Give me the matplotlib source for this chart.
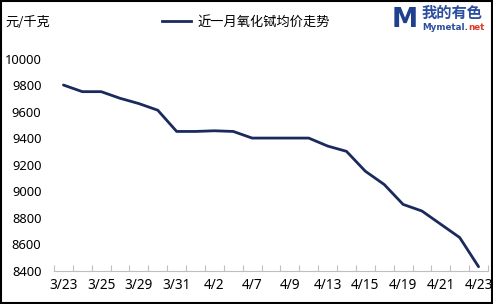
import matplotlib
matplotlib.use("Agg")
import matplotlib.pyplot as plt
from matplotlib.patches import Rectangle

dates = ["3/23", "3/24", "3/25", "3/26", "3/29", "3/30", "3/31", "4/1", "4/2", "4/6",
         "4/7", "4/8", "4/9", "4/12", "4/13", "4/14", "4/15", "4/16", "4/19", "4/20",
         "4/21", "4/22", "4/23"]
prices = [9800, 9750, 9750, 9700, 9660, 9610, 9450, 9450, 9455, 9450,
          9400, 9400, 9400, 9400, 9340, 9300, 9150, 9050, 8900, 8850,
          8750, 8650, 8430]
yticks = [8400, 8600, 8800, 9000, 9200, 9400, 9600, 9800, 10000]

navy = "#1b2a5c"
cjk = ["Noto Sans CJK SC", "DejaVu Sans"]

fig = plt.figure(figsize=(4.93, 3.04), dpi=100)
ax = fig.add_axes([54 / 493, 33.3 / 304, 434 / 493, 212.2 / 304])

x = list(range(len(dates)))
ax.plot(x, prices, color=navy, lw=2, solid_capstyle="round", solid_joinstyle="round")

ax.set_xlim(-0.5, len(dates) - 0.5)
ax.set_ylim(8400, 10000)
ax.set_yticks(yticks)
ax.set_yticklabels([str(v) for v in yticks], fontname="Noto Sans", fontsize=9.3)
ax.tick_params(axis="y", length=0, pad=9)

# category boundaries carry the tick marks, every other label shown
ax.set_xticks([i - 0.5 for i in range(len(dates) + 1)])
ax.set_xticklabels([])
ax.set_xticks(x[::2], minor=True)
ax.set_xticklabels(dates[::2], minor=True, fontname="Noto Sans", fontsize=9.8)
ax.tick_params(axis="x", which="major", direction="in", length=4, color="#bfbfbf", width=0.8)
ax.tick_params(axis="x", which="minor", length=0, pad=5)

for s in ["left", "right", "top"]:
    ax.spines[s].set_visible(False)
ax.spines["bottom"].set_color("#bfbfbf")
ax.spines["bottom"].set_linewidth(0.8)

fig.text(5 / 493, 1 - 22 / 304, "元/千克", family=cjk, fontsize=9.5, va="center")

# legend
ax.plot([], [], color=navy, lw=2, label="近一月氧化铽均价走势")
ax.legend(loc="center", bbox_to_anchor=(246 / 493, 1 - 22 / 304), bbox_transform=fig.transFigure,
          frameon=False, prop={"family": cjk, "size": 9.5}, handlelength=2.2, handletextpad=0.5)

# logo
fig.text(405 / 493, 1 - 20 / 304, "M", fontsize=19, fontweight="bold", color="#1f3f8f",
         ha="center", va="center", family="DejaVu Sans")
fig.text(422 / 493, 1 - 13 / 304, "我的有色", family=cjk, fontsize=11, color="#2b4ea0",
         va="center", fontweight="bold")
t = fig.text(422 / 493, 1 - 28 / 304, "Mymetal.", fontsize=6.3, color="#2b4ea0", va="center",
             fontweight="bold", family="DejaVu Sans")
ax.annotate("net", xy=(1, 0.5), xycoords=t, xytext=(0.5, 0), textcoords="offset points",
            fontsize=6.3, color="#e03c2c", va="center", ha="left", fontweight="bold",
            family="DejaVu Sans", annotation_clip=False)

fig.patches.append(Rectangle((0.002, 0.003), 0.995, 0.994, transform=fig.transFigure,
                             fill=False, edgecolor="black", lw=1.5))

fig.savefig("out.png", dpi=100)
